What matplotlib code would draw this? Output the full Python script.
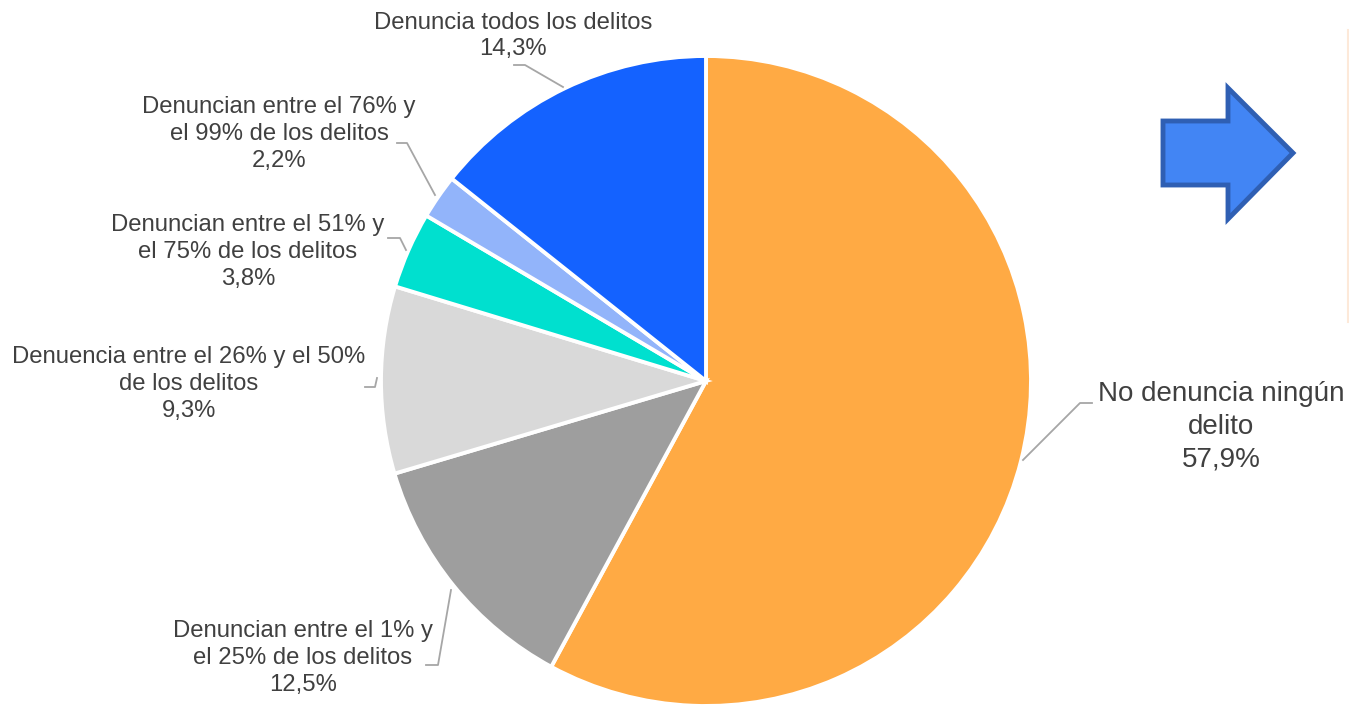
import matplotlib
matplotlib.use("Agg")
import matplotlib.pyplot as plt
from matplotlib.patches import Polygon

plt.rcParams['font.family'] = ['Liberation Sans', 'DejaVu Sans']

# data (clockwise from 12 o'clock)
categorias = ["No denuncia ningún\ndelito",
              "Denuncian entre el 1% y\nel 25% de los delitos",
              "Denuencia entre el 26% y el 50%\nde los delitos",
              "Denuncian entre el 51% y\nel 75% de los delitos",
              "Denuncian entre el 76% y\nel 99% de los delitos",
              "Denuncia todos los delitos"]
valores = [57.9, 12.5, 9.3, 3.8, 2.2, 14.3]
etiquetas_pct = ["57,9%", "12,5%", "9,3%", "3,8%", "2,2%", "14,3%"]
colores = ["#FFAA44", "#9E9E9E", "#D9D9D9", "#00E0CF", "#92B4FA", "#1462FF"]

W, H = 1349, 707
fig = plt.figure(figsize=(W / 100, H / 100), dpi=100)
ax = fig.add_axes([0, 0, 1, 1])
ax.set_xlim(0, W)
ax.set_ylim(0, H)
ax.set_aspect('equal')
ax.axis('off')

def Y(py):
    return H - py

ax.pie(valores, colors=colores, startangle=90, counterclock=False,
       center=(706, Y(381)), radius=325,
       wedgeprops=dict(edgecolor='white', linewidth=2.8))
ax.set_xlim(0, W)
ax.set_ylim(0, H)

txt_color = "#404040"
# label positions (pixel coords of text center) and leader lines
pos = [(1221, 427), (303, 658), (189, 384), (248, 252), (279, 134), (513, 36)]
sizes = [20, 17.2, 17.2, 17.2, 17.2, 17.2]
spacing = [1.33, 1.29, 1.29, 1.29, 1.29, 1.29]
leaders = [
    [(1092, 403), (1080, 403), (1023, 460)],
    [(426, 665), (438, 665), (451, 590)],
    [(365, 387), (375, 387), (377, 378)],
    [(388, 238), (400, 238), (406, 250)],
    [(397, 143), (407, 143), (435, 195)],
    [(514, 65), (525, 65), (563, 87)],
]

for cat, pct, (px, py), fs, ls, ln in zip(categorias, etiquetas_pct, pos, sizes, spacing, leaders):
    ax.text(px, Y(py), cat + "\n" + pct, ha='center', va='center',
            fontsize=fs, color=txt_color, linespacing=ls)
    xs = [p[0] for p in ln]
    ys = [Y(p[1]) for p in ln]
    ax.plot(xs, ys, color="#A6A6A6", lw=1.3)

# arrow on the right
arrow = [(1163, 121), (1228, 121), (1228, 88), (1293, 153), (1228, 219),
         (1228, 185), (1163, 185)]
ax.add_patch(Polygon([(x, Y(y)) for x, y in arrow], closed=True,
                     facecolor="#4285F4", edgecolor="#2F5FB3", lw=3.5,
                     joinstyle='miter'))

# thin edge of a box at the right border
ax.plot([1348, 1348], [Y(30), Y(322)], color="#FDE9D9", lw=1.5)

fig.savefig("out.png", dpi=100)
